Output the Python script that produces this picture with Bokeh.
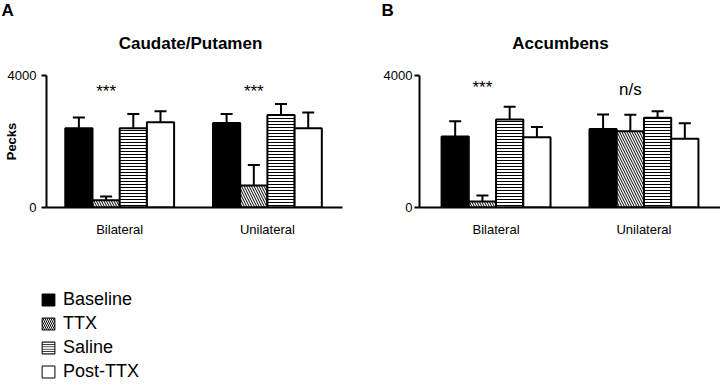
import math
from bokeh.plotting import figure
from bokeh.models import (ColumnDataSource, Range1d, FixedTicker, Whisker, TeeHead,
                          Label, Legend, LegendItem)
from bokeh.core.properties import value
from bokeh.layouts import column, row
from bokeh.embed import file_html
from bokeh.resources import INLINE

# ---------------- data ----------------
groups = ["Bilateral", "Unilateral"]
treatments = ["Baseline", "TTX", "Saline", "Post-TTX"]

cp_bilateral = [2400, 220, 2400, 2580]
cp_bilateral_err = [330, 110, 430, 340]
cp_unilateral = [2560, 670, 2800, 2400]
cp_unilateral_err = [270, 620, 340, 480]

acc_bilateral = [2150, 185, 2670, 2130]
acc_bilateral_err = [460, 175, 380, 310]
acc_unilateral = [2380, 2310, 2720, 2080]
acc_unilateral_err = [440, 500, 200, 470]

y_ticks = [0, 4000]
cp_marks = ["***", "***"]
acc_marks = ["***", "n/s"]
y_label = "Pecks"

# ---------------- style ----------------
FONT = "Liberation Sans"
fills = ["black", "white", "white", "white"]
hatches = [" ", "\\", "-", " "]
hatch_scales = [5, 5, 3, 5]

GAP = 1.43                 # gap between groups, in bar widths
BW = 1.0 / (4 + GAP)       # bar width in axis units (group centres at 0 and 1)

HEAD_H = 62
PANEL_H = 188
FRAME_TOP = 75
FRAME_BOTTOM = 207


def build_header(letter, letter_x, letter_base, title, title_x, title_base, width=360):
    h = figure(width=width, height=HEAD_H, output_backend="svg", toolbar_location=None,
               x_range=Range1d(0, width), y_range=Range1d(HEAD_H, 0),
               x_axis_type=None, y_axis_type=None, min_border=0)
    h.outline_line_color = None
    h.grid.visible = False
    h.text(x=[letter_x], y=[letter_base], text=[letter], text_font=value(FONT),
           text_font_size="17px", text_font_style="bold", text_color="black",
           text_align="left", text_baseline="alphabetic")
    h.text(x=[title_x], y=[title_base], text=[title], text_font=value(FONT),
           text_font_size="17px", text_font_style="bold", text_color="black",
           text_align="center", text_baseline="alphabetic")
    return h


def build_panel(means, errs, marks, width, mb_left, mb_right, pad_l, pad_r,
                mark_base_px, tick_standoff, ylabel=None):
    x_start = -(2 + pad_l) * BW
    x_end = 1 + (2 + pad_r) * BW
    p = figure(width=width, height=PANEL_H, output_backend="svg",
               toolbar_location=None,
               x_range=Range1d(x_start, x_end), y_range=Range1d(y_ticks[0], y_ticks[-1]),
               min_border_left=mb_left, min_border_right=mb_right,
               min_border_top=FRAME_TOP - HEAD_H,
               min_border_bottom=HEAD_H + PANEL_H - FRAME_BOTTOM)
    p.outline_line_color = None
    p.grid.visible = False

    def fy(py):
        return (FRAME_BOTTOM - py) / (FRAME_BOTTOM - FRAME_TOP) * y_ticks[-1]

    xs, tops, uppers, fc, hp, hs = [], [], [], [], [], []
    for g in range(len(groups)):
        for i in range(len(treatments)):
            xs.append(g + (i - 1.5) * BW)
            tops.append(means[g][i])
            uppers.append(means[g][i] + errs[g][i])
            fc.append(fills[i])
            hp.append(hatches[i])
            hs.append(hatch_scales[i])
    src = ColumnDataSource(dict(x=xs, top=tops, upper=uppers, fill=fc,
                                hatch=hp, hscale=hs))

    w = Whisker(source=src, base="x", upper="upper", lower="top",
                dimension="height", line_width=2, line_color="black",
                upper_head=TeeHead(size=12, line_width=2, line_color="black"),
                lower_head=None)
    p.add_layout(w)

    p.vbar(x="x", top="top", bottom=0, width=BW, source=src,
           fill_color="fill", hatch_pattern="hatch", hatch_scale="hscale",
           hatch_color="black", hatch_weight=1,
           line_color="black", line_width=2)

    # axes
    p.yaxis.ticker = FixedTicker(ticks=y_ticks)
    p.yaxis.minor_tick_line_color = None
    p.yaxis.major_tick_out = 5
    p.yaxis.major_tick_in = 0
    p.yaxis.major_label_standoff = tick_standoff
    p.xaxis.ticker = FixedTicker(ticks=list(range(len(groups))))
    p.xaxis.major_label_overrides = {i: g for i, g in enumerate(groups)}
    p.xaxis.minor_tick_line_color = None
    p.xaxis.major_tick_out = 0
    p.xaxis.major_tick_in = 0
    p.xaxis.major_label_standoff = 14
    for ax in (p.xaxis, p.yaxis):
        ax.axis_line_width = 2
        ax.axis_line_color = "black"
        ax.major_tick_line_width = 2
        ax.major_tick_line_color = "black"
        ax.major_label_text_font = FONT
        ax.major_label_text_color = "black"
        ax.major_label_text_font_size = "13px"
    if ylabel is not None:
        p.yaxis.axis_label = ylabel
        p.yaxis.axis_label_text_font = FONT
        p.yaxis.axis_label_text_font_size = "13px"
        p.yaxis.axis_label_text_font_style = "bold"
        p.yaxis.axis_label_text_color = "black"
        p.yaxis.axis_label_standoff = -11 - (tick_standoff - 2)

    for g, m in enumerate(marks):
        p.add_layout(Label(x=g - 0.5 * BW, y=fy(mark_base_px[g]), text=m,
                           text_font=FONT, text_font_size="17px",
                           text_align="center", text_baseline="alphabetic",
                           text_color="black"))
    return p


hA = build_header("A", 1, 9.5, "Caudate/Putamen", 190, 43)
hB = build_header("B", 21, 9.5, "Accumbens", 200, 43)

pA = build_panel([cp_bilateral, cp_unilateral], [cp_bilateral_err, cp_unilateral_err],
                 cp_marks, 360, 40, 18, 0.69, 0.76, [91, 91], 5, ylabel=y_label)
pB = build_panel([acc_bilateral, acc_unilateral], [acc_bilateral_err, acc_unilateral_err],
                 acc_marks, 360, 59, 0, 0.81, 0.81, [86.5, 88.5], 2)

# ---------------- legend ----------------
LEG_H = 384 - HEAD_H - PANEL_H
pl = figure(width=200, height=LEG_H, output_backend="svg", toolbar_location=None,
            x_range=Range1d(0, 1), y_range=Range1d(0, 1),
            x_axis_type=None, y_axis_type=None,
            min_border_left=40, min_border_top=39, min_border_right=0, min_border_bottom=0)
pl.outline_line_color = None
pl.grid.visible = False
items = []
for i, t in enumerate(treatments):
    r = pl.vbar(x=[5], top=[1], width=0.1, fill_color=fills[i],
                hatch_pattern=hatches[i], hatch_scale=hatch_scales[i] * 0.8,
                hatch_color="black", hatch_weight=1,
                line_color="black", line_width=1)
    items.append(LegendItem(label=t, renderers=[r]))
leg = Legend(items=items, location="top_left", margin=0, padding=0, spacing=3,
             glyph_width=16, glyph_height=15, label_standoff=7, label_height=20,
             label_text_font=FONT, label_text_font_size="18px",
             label_text_color="black",
             border_line_color=None, background_fill_alpha=0)
pl.add_layout(leg)

layout = column(row(hA, hB), row(pA, pB), pl)
open("out.html", "w").write(file_html(layout, INLINE))
